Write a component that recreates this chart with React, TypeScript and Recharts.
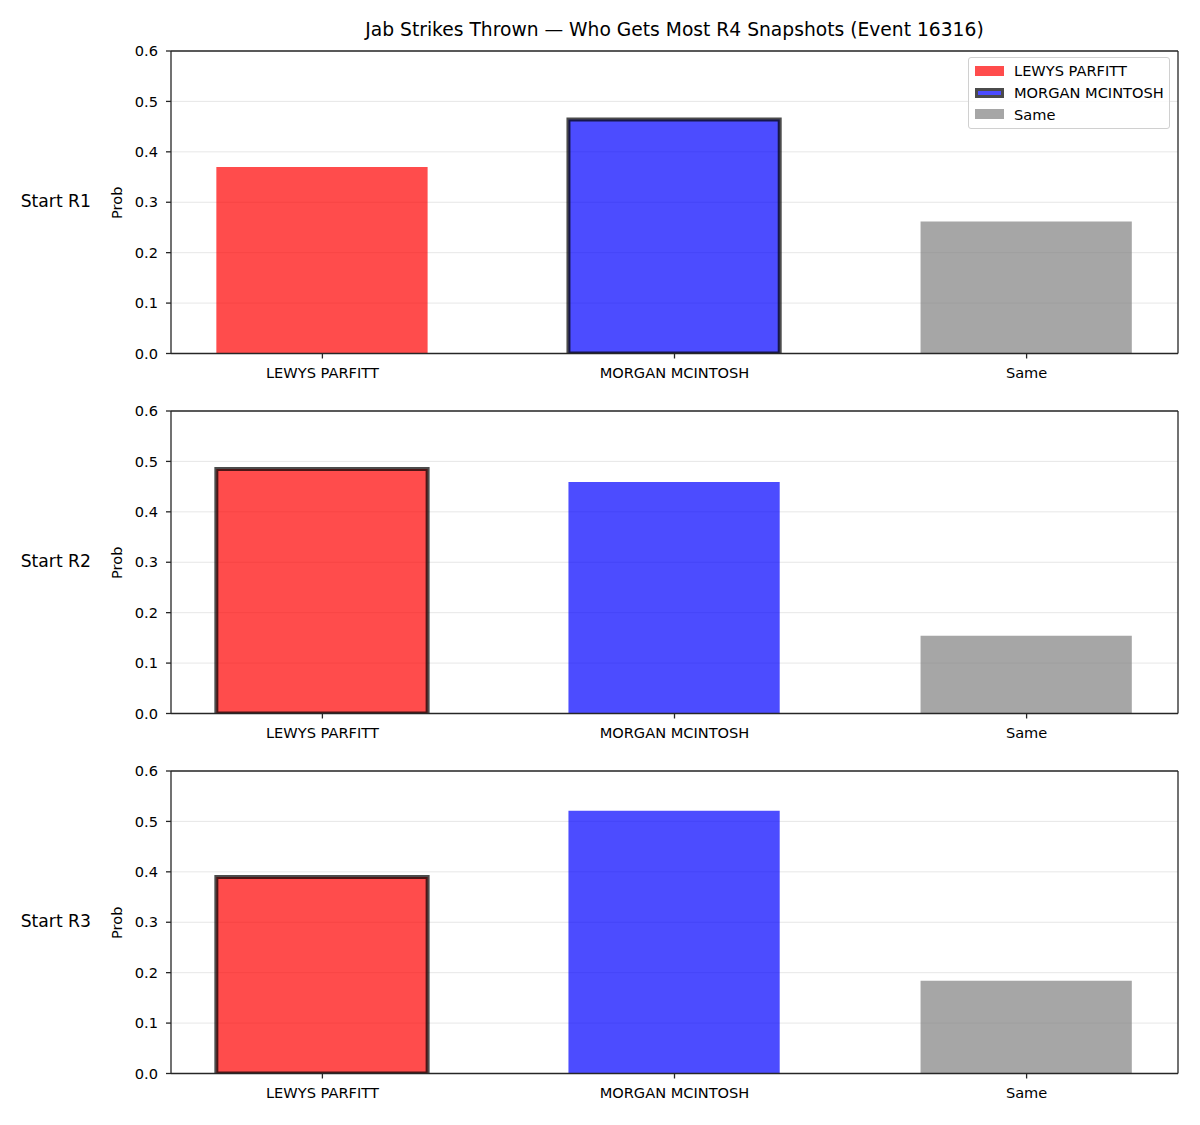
import { Bar, BarChart, CartesianGrid, Cell, Legend, ReferenceLine, XAxis, YAxis } from "recharts"

const categories = ["LEWYS PARFITT", "MORGAN MCINTOSH", "Same"]
const colors = ["#ff0000", "#0000ff", "#808080"]
const rounds = ["Start R1", "Start R2", "Start R3"]
const probR1 = [0.37, 0.464, 0.262]
const probR2 = [0.485, 0.459, 0.154]
const probR3 = [0.39, 0.521, 0.184]
// index of the outlined bar in each round
const outlined = [1, 0, 0]
const yTicks = [0, 0.1, 0.2, 0.3, 0.4, 0.5, 0.6]

const W = 1200
const H = 1125
const PANEL_H = 360
const PANEL_TOP = 40.5
const PLOT_LEFT = 171
const PLOT_RIGHT = 1178
const PLOT_TOP = 10
const PLOT_H = 302.5
const X_DOMAIN: [number, number] = [-0.43, 2.43]
const Y_MAX = 0.6
const BAR_SIZE = (0.6 * (PLOT_RIGHT - PLOT_LEFT)) / (X_DOMAIN[1] - X_DOMAIN[0])
const FONT = '"DejaVu Sans", sans-serif'
const INK = "#262626"

const tickStyle = { fontSize: 14.6, fill: "#000", fontFamily: FONT }

function LegendBox() {
  return (
    <div
      style={{
        width: 202,
        height: 72,
        boxSizing: "border-box",
        border: "1px solid #d0d0d0",
        borderRadius: 3,
        background: "rgba(255,255,255,0.8)",
        fontFamily: FONT,
        fontSize: 14.6,
        color: "#000",
        paddingTop: 2,
      }}
    >
      {categories.map((name, i) => (
        <div key={name} style={{ display: "flex", alignItems: "center", height: 21.8 }}>
          <div
            style={{
              marginLeft: 6,
              width: 29,
              height: 10,
              boxSizing: "border-box",
              background: colors[i],
              opacity: 0.7,
              border: i === outlined[0] ? "3px solid #000" : "none",
            }}
          />
          <span style={{ marginLeft: 10, whiteSpace: "nowrap" }}>{name}</span>
        </div>
      ))}
    </div>
  )
}

function Panel({ values, pick, showLegend }: { values: number[]; pick: number; showLegend: boolean }) {
  const rows = categories.map((name, i) => ({ pos: i, name, prob: values[i] }))
  return (
    <BarChart
      width={W}
      height={PANEL_H}
      data={rows}
      margin={{ top: PLOT_TOP, right: W - PLOT_RIGHT, bottom: PANEL_H - PLOT_TOP - PLOT_H - 40, left: 0 }}
      style={{ fontFamily: FONT }}
    >
      <CartesianGrid vertical={false} stroke="#b0b0b0" strokeOpacity={0.3} />
      <XAxis
        dataKey="pos"
        type="number"
        domain={X_DOMAIN}
        ticks={[0, 1, 2]}
        tickFormatter={(v: number) => categories[v]}
        allowDataOverflow
        height={40}
        stroke={INK}
        strokeWidth={1.3}
        tickSize={5}
        tickMargin={9.5}
        tick={tickStyle}
        interval={0}
      />
      <YAxis
        type="number"
        domain={[0, Y_MAX]}
        ticks={yTicks}
        tickFormatter={(v: number) => v.toFixed(1)}
        allowDataOverflow
        width={PLOT_LEFT}
        stroke={INK}
        strokeWidth={1.3}
        tickSize={5}
        tickMargin={8}
        tick={tickStyle}
        interval={0}
      />
      {/* top and right spines */}
      <ReferenceLine y={Y_MAX} stroke={INK} strokeWidth={1.3} />
      <ReferenceLine x={X_DOMAIN[1]} stroke={INK} strokeWidth={1.3} />
      {showLegend && (
        <Legend
          layout="horizontal"
          verticalAlign="middle"
          align="center"
          content={() => <LegendBox />}
          wrapperStyle={{ left: 968, top: 57 - PANEL_TOP, width: 202 }}
        />
      )}
      <Bar dataKey="prob" barSize={BAR_SIZE} isAnimationActive={false}>
        {rows.map((r, i) => (
          <Cell
            key={r.name}
            fill={colors[i]}
            fillOpacity={0.7}
            stroke={i === pick ? "#000" : "none"}
            strokeOpacity={0.7}
            strokeWidth={4}
          />
        ))}
      </Bar>
    </BarChart>
  )
}

export default function App() {
  const series = [probR1, probR2, probR3]
  return (
    <div style={{ position: "absolute", left: 0, top: 0, width: W, height: H, background: "#fff" }}>
      {series.map((values, k) => (
        <div key={rounds[k]} style={{ position: "absolute", left: 0, top: PANEL_TOP + k * PANEL_H }}>
          <Panel values={values} pick={outlined[k]} showLegend={k === 0} />
        </div>
      ))}
      <svg
        width={W}
        height={H}
        style={{ position: "absolute", left: 0, top: 0, pointerEvents: "none", fontFamily: FONT }}
      >
        <text x={674.5} y={36} textAnchor="middle" fontSize={18.7} fill="#000">
          Jab Strikes Thrown — Who Gets Most R4 Snapshots (Event 16316)
        </text>
        {rounds.map((label, k) => {
          const cy = PANEL_TOP + k * PANEL_H + PLOT_TOP + PLOT_H / 2
          return (
            <g key={label}>
              <text x={91} y={cy + 5} textAnchor="end" fontSize={17.2} fill="#000">
                {label}
              </text>
              <text
                x={0}
                y={0}
                transform={`translate(122, ${cy + 1}) rotate(-90)`}
                textAnchor="middle"
                fontSize={14.6}
                fill="#000"
              >
                Prob
              </text>
            </g>
          )
        })}
      </svg>
    </div>
  )
}
